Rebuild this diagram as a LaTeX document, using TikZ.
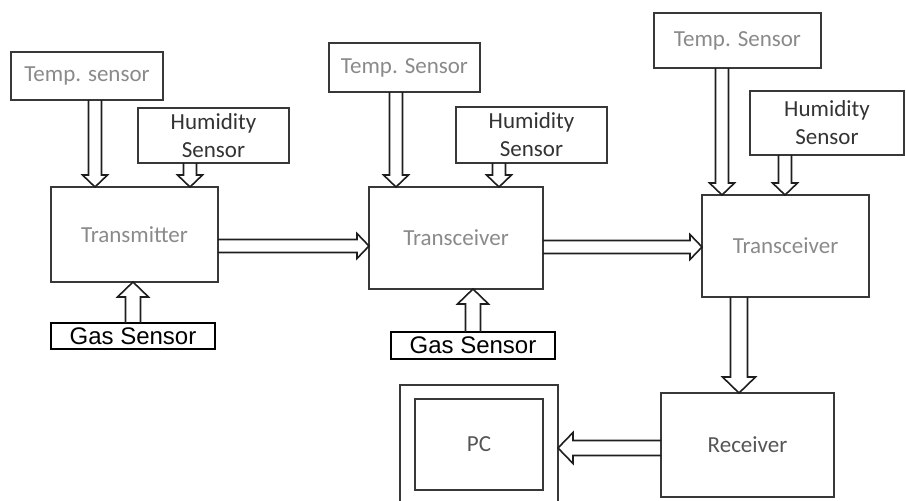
\documentclass[tikz,border=0pt]{standalone}
\usepackage{fontspec}
\usetikzlibrary{calc}
\newfontfamily\calibfont{Carlito}
\newfontfamily\arialfont{Liberation Sans}
\definecolor{boxline}{HTML}{383838}
\definecolor{arrowline}{HTML}{1E1E1E}
\definecolor{txtlight}{HTML}{8A8A8A}
\definecolor{txtmid}{HTML}{555555}
\definecolor{txtdark}{HTML}{333333}

\begin{document}
\begin{tikzpicture}[x=1pt, y=-1pt]
%% one unit is one pixel of the 906 x 501 drawing, y grows downwards
%% the hollow arrows take: half shaft width, half head width, head length
\tikzset{hollow/.style n args={3}{line width=1.6pt, draw=arrowline, line join=miter,
  to path={let \p1=($(\tikztotarget)!#3!(\tikztostart)$) in
    ($(\tikztostart)!#1!90:(\tikztotarget)$) -- ($(\p1)!#1!90:(\tikztotarget)$)
    -- ($(\p1)!#2!90:(\tikztotarget)$) -- (\tikztotarget)
    -- ($(\p1)!#2!-90:(\tikztotarget)$) -- ($(\p1)!#1!-90:(\tikztotarget)$)
    -- ($(\tikztostart)!#1!-90:(\tikztotarget)$)}}}
\tikzstyle{thinarrow}=[hollow={6.5pt}{12.5pt}{12pt}]
\tikzstyle{widearrow}=[hollow={7.5pt}{15.5pt}{15pt}]
\tikzstyle{block}=[draw=boxline, line width=1.5pt, inner sep=0pt, outer sep=0pt, align=center,
  font=\calibfont\fontsize{23}{28}\selectfont]
\tikzstyle{gasbox}=[draw=black, line width=2.2pt, inner sep=0pt, outer sep=0pt,
  font=\arialfont\fontsize{24}{28}\selectfont]
\clip (0,0) rectangle (906,501);
%% first node
\node[block, minimum width=152, minimum height=48, text=txtlight] at (87,76) (temp1) {Temp. sensor};
\node[block, minimum width=151, minimum height=55, text=txtdark] at (213.5,135.5) (hum1) {Humidity\\Sensor};
\node[block, minimum width=167, minimum height=95, text=txtlight] at (134.5,234.5) (tx) {Transmitter};
\node[gasbox, minimum width=164, minimum height=26] at (133,336) (gas1) {Gas Sensor};
%% second node
\node[block, minimum width=151, minimum height=49, text=txtlight] at (404.5,67.5) (temp2) {Temp. Sensor};
\node[block, minimum width=151, minimum height=56, text=txtdark] at (531.5,135) (hum2) {Humidity\\Sensor};
\node[block, minimum width=174, minimum height=102, text=txtlight] at (456,238) (trc1) {Transceiver};
\node[gasbox, minimum width=164, minimum height=27] at (473,345.5) (gas2) {Gas Sensor};
%% third node
\node[block, minimum width=167, minimum height=55, text=txtlight] at (737.5,40.5) (temp3) {Temp. Sensor};
\node[block, minimum width=154, minimum height=64, text=txtdark] at (827,123) (hum3) {Humidity\\Sensor};
\node[block, minimum width=167, minimum height=102, text=txtlight] at (785.5,246) (trc2) {Transceiver};
%% receiver side
\node[block, minimum width=173, minimum height=104, text=txtmid] at (747.5,445) (rcv) {Receiver};
\node[block, minimum width=158, minimum height=135] at (479,452.5) (pcout) {};
\node[block, minimum width=128, minimum height=91, text=txtmid] at (479,444.5) (pcin) {PC};
%% arrows
\draw[thinarrow] (temp1.south -| 95,0) to (tx.north -| 95,0);
\draw[thinarrow] (hum1.south -| 190,0) to (tx.north -| 190,0);
\draw[widearrow] (gas1.north -| 133,0) to (tx.south -| 133,0);
\draw[thinarrow] (tx.east |- 0,246) to (trc1.west |- 0,246);
\draw[thinarrow] (temp2.south -| 396,0) to (trc1.north -| 396,0);
\draw[thinarrow] (hum2.south -| 499,0) to (trc1.north -| 499,0);
\draw[widearrow] (gas2.north -| 473,0) to (trc1.south -| 473,0);
\draw[thinarrow] (trc1.east |- 0,247) to (trc2.west |- 0,247);
\draw[thinarrow] (temp3.south -| 722,0) to (trc2.north -| 722,0);
\draw[thinarrow] (hum3.south -| 785,0) to (trc2.north -| 785,0);
\draw[hollow={8.5pt}{16.5pt}{16pt}] (trc2.south -| 739,0) to (rcv.north -| 739,0);
\draw[widearrow] (rcv.west |- 0,448) to (pcout.east |- 0,448);
\end{tikzpicture}
\end{document}
